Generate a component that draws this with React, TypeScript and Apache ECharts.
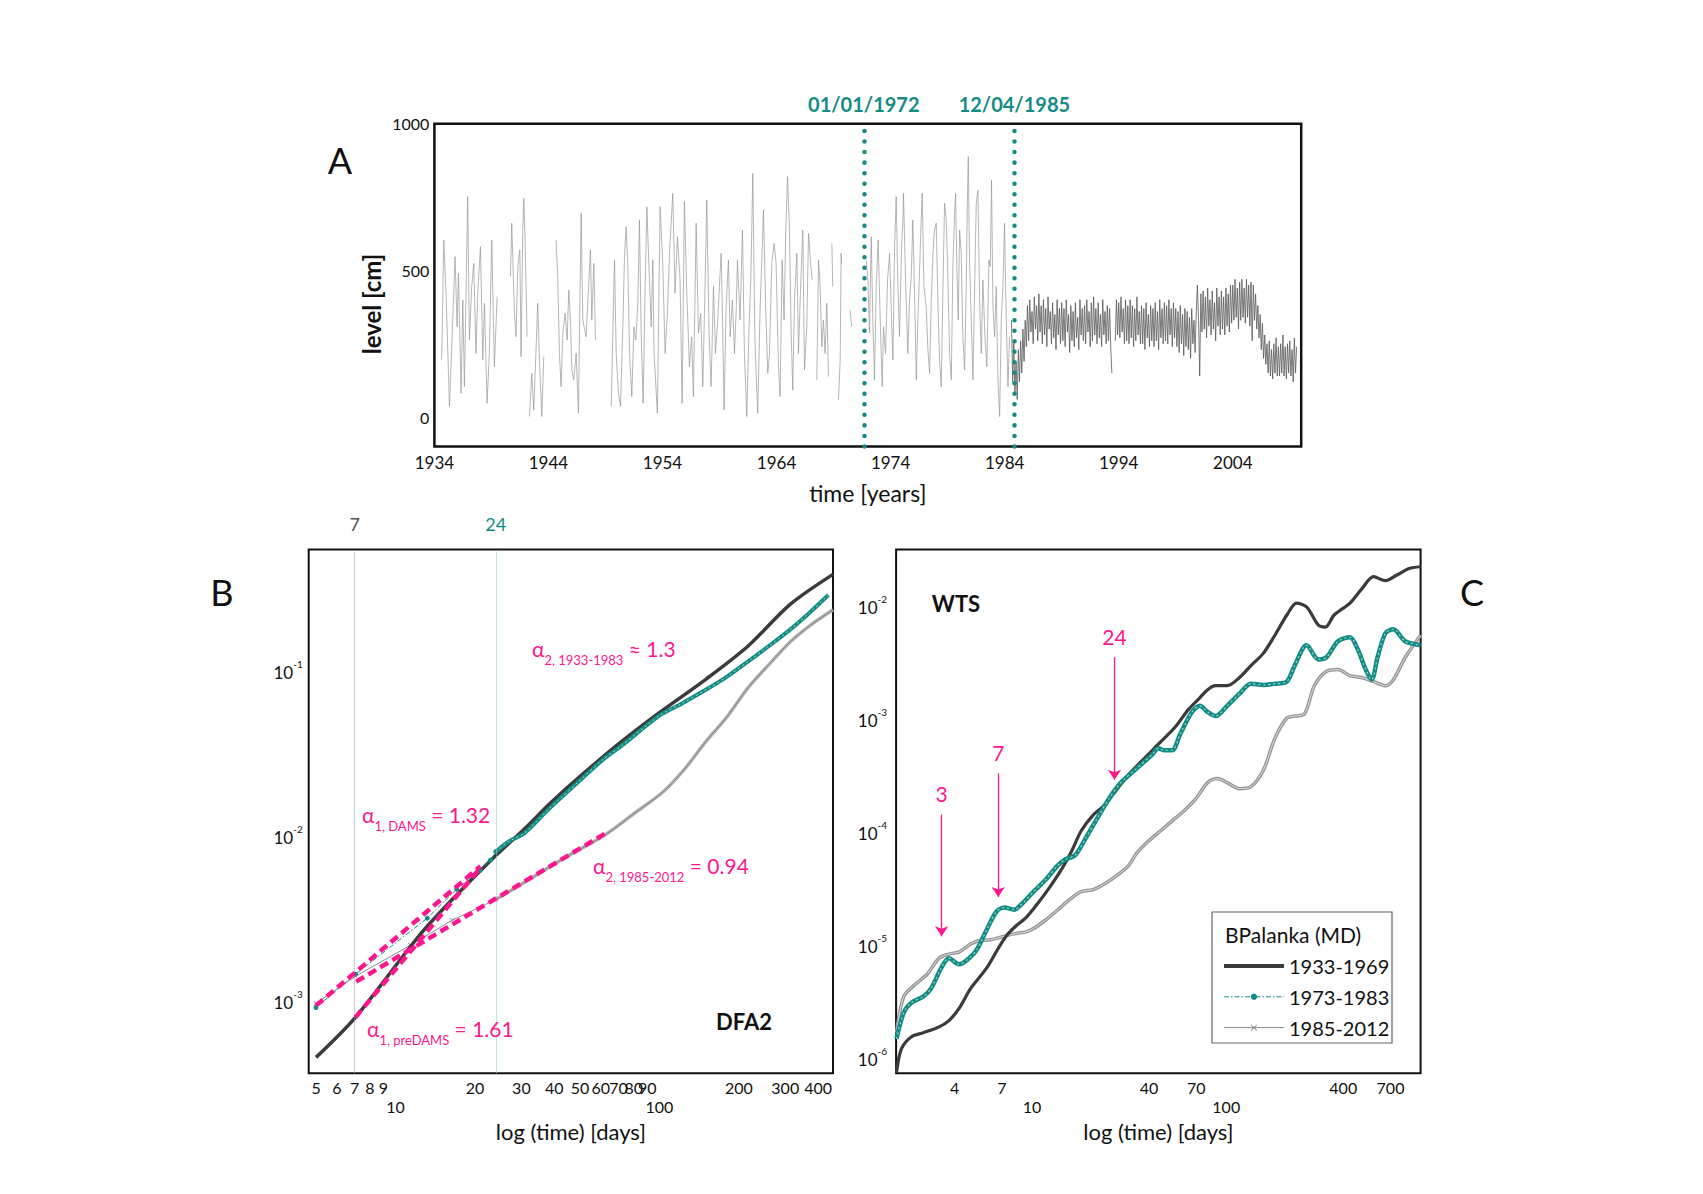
import React, { useEffect, useRef } from "react";
import * as echarts from "echarts";

const FONT = "Lato, 'Open Sans', 'DejaVu Sans', sans-serif";
const TEAL = "#148c86";
const PINK = "#ff168f";
const DARK = "#3b3b3b";

// ---------------- Panel A : water level time series ----------------
const yearTicks = [1934, 1944, 1954, 1964, 1974, 1984, 1994, 2004];
const levelTicks = [0, 500, 1000];
const damDates = [1971.65, 1984.85];
const damLabels = ["01/01/1972", "12/04/1985"];

// [year, level cm]; null = gap in record
const levelEarly: [number, number | null][] = [
  [1934.64, 195], [1934.82, 604], [1935.02, 422], [1935.32, 36], [1935.61, 331], [1935.81, 547], [1935.99, 308],
  [1936.11, 490], [1936.34, 81], [1936.49, 399], [1936.63, 104], [1936.92, 752], [1937.07, 263], [1937.27, 445],
  [1937.45, 524], [1937.65, 217], [1937.8, 422], [1938.04, 581], [1938.24, 195], [1938.39, 388], [1938.62, 47],
  [1938.82, 217], [1939.03, 604], [1939.26, 172], [1939.5, 411], [1940.1, null],
  [1940.67, 479], [1940.78, 661], [1941.02, 354], [1941.16, 274], [1941.31, 513], [1941.49, 570], [1941.6, 206],
  [1941.75, 638], [1941.84, 746], [1941.95, 604], [1942.13, 274], [1942.2, null],
  [1942.33, 2], [1942.54, 149], [1942.71, 24], [1942.92, 240], [1943.06, 388], [1943.21, 195], [1943.42, 2],
  [1943.59, 206], [1944.0, null],
  [1944.67, 604], [1944.82, 468], [1944.96, 217], [1945.11, 104], [1945.26, 286], [1945.46, 354], [1945.64, 263],
  [1945.78, 433], [1945.93, 331], [1946.05, 161], [1946.22, 127], [1946.43, 217], [1946.63, 13], [1946.75, 377],
  [1946.87, 695], [1947.01, 331], [1947.3, 274], [1947.68, 570], [1947.8, 331], [1947.98, 524], [1948.12, 263],
  [1948.8, null],
  [1949.5, 36], [1949.64, 274], [1949.79, 536], [1949.94, 217], [1950.14, 81], [1950.32, 36], [1950.52, 308],
  [1950.67, 547], [1950.81, 649], [1950.96, 513], [1951.11, 217], [1951.31, 70], [1951.49, 308], [1951.66, 263],
  [1951.84, 388], [1951.98, 672], [1952.13, 286], [1952.3, 47], [1952.48, 445], [1952.63, 717], [1952.8, 524],
  [1953.01, 308], [1953.15, 536], [1953.26, 217], [1953.55, 13], [1953.79, 717], [1954.02, 524], [1954.23, 217],
  [1954.43, 354], [1954.61, 558], [1954.9, 763], [1955.1, 422], [1955.31, 615], [1955.54, 468], [1955.72, 47],
  [1955.92, 735], [1956.13, 422], [1956.36, 172], [1956.56, 274], [1956.71, 70], [1956.95, 661], [1957.15, 286],
  [1957.35, 354], [1957.53, 104], [1957.73, 445], [1957.88, 740], [1958.09, 274], [1958.26, 104], [1958.47, 445],
  [1958.64, 217], [1958.85, 331], [1958.99, 445], [1959.14, 558], [1959.28, 308], [1959.4, 24], [1959.58, 377],
  [1959.78, 536], [1959.93, 274], [1960.13, 399], [1960.31, 217], [1960.45, 354], [1960.57, 536], [1960.8, 331],
  [1961.01, 638], [1961.18, 217], [1961.39, 2], [1961.59, 308], [1961.74, 468], [1961.92, 831], [1962.09, 286],
  [1962.21, 149], [1962.35, 13], [1962.56, 377], [1962.71, 536], [1962.85, 706], [1963.06, 354], [1963.23, 149],
  [1963.38, 217], [1963.58, 524], [1963.79, 592], [1963.96, 524], [1964.17, 172], [1964.31, 70], [1964.49, 536],
  [1964.66, 331], [1964.81, 638], [1964.96, 820], [1965.13, 649], [1965.28, 286], [1965.42, 92], [1965.57, 399],
  [1965.78, 558], [1965.92, 217], [1966.13, 468], [1966.3, 638], [1966.45, 161], [1966.65, 308], [1966.8, 626],
  [1966.97, 536], [1967.12, 468], [1967.3, null],
  [1967.53, 127], [1967.68, 536], [1967.82, 445], [1967.97, 240], [1968.11, 331], [1968.26, 217], [1968.41, 388],
  [1968.55, 138], [1968.7, null], [1968.85, 592], [1968.93, 445], [1969.1, null],
  [1969.43, 58], [1969.58, 195], [1969.66, 558], [1969.72, 524], [1970.0, null],
  [1970.45, 365], [1970.6, 308], [1971.0, null],
  [1971.86, 536], [1972.01, 468], [1972.15, 286], [1972.3, 615], [1972.44, 331], [1972.59, 127], [1972.74, 445],
  [1972.91, 604], [1973.09, 331], [1973.26, 104], [1973.38, 308], [1973.56, 217], [1973.73, 468], [1973.91, 558],
  [1974.08, 331], [1974.2, 195], [1974.35, 581], [1974.49, 752], [1974.64, 445], [1974.78, 274], [1974.96, 581],
  [1975.08, 672], [1975.13, 763], [1975.31, 468], [1975.51, 217], [1975.66, 399], [1975.81, 479], [1975.95, 672],
  [1976.1, 422], [1976.25, 127], [1976.39, 331], [1976.54, 502], [1976.68, 672], [1976.77, 763], [1976.92, 445],
  [1977.12, 377], [1977.27, 229], [1977.42, 149], [1977.56, 388], [1977.71, 558], [1977.85, 638], [1978.0, 661],
  [1978.15, 388], [1978.29, 195], [1978.44, 104], [1978.59, 445], [1978.73, 729], [1978.88, 672], [1979.02, 479],
  [1979.17, 217], [1979.32, 127], [1979.46, 513], [1979.61, 695], [1979.7, 763], [1979.81, 502], [1979.93, 331],
  [1980.05, 638], [1980.19, 558], [1980.34, 274], [1980.49, 161], [1980.63, 445], [1980.72, 717], [1980.81, 888],
  [1980.92, 536], [1981.07, 331], [1981.22, 127], [1981.39, 490], [1981.51, 729], [1981.66, 774], [1981.8, 399],
  [1981.95, 217], [1982.09, 468], [1982.27, 274], [1982.44, 172], [1982.62, 536], [1982.74, 513], [1982.85, 808],
  [1982.97, 377], [1983.12, 274], [1983.26, 445], [1983.41, 127], [1983.56, 2], [1983.7, 331], [1983.85, 445],
  [1983.99, 661], [1984.14, 331], [1984.29, 104], [1984.43, 274],
];

// regular 0.1-year samples after the dams (dense band)
const lateStart = 1984.6;
const lateStep = 0.1;
const levelLate: (number | null)[] = [
  330, 120, 260, 80,
  190, 60, 230, 120, 260, 150, 300, 190, 330, 240,
  380, 260, 400, 290, 360, 250, 410, 300, 380, 260,
  420, 290, 380, 250, 400, 280, 370, 240, 410, 300,
  360, 250, 390, 270, 350, 230, 400, 280, 370, 250,
  390, 260, 370, 240, 400, 290, 350, 220, 380, 260,
  360, 240, 390, 270, 340, 230, 400, 280, 370, 260,
  380, 250, 400, 290, 360, 240, 390, 260, 410, 280,
  370, 250, 390, 270, 350, 240, 400, 280, 360, 250,
  380, 260, 370, 240, 150, null, null, 260, 400, 280,
  390, 270, 410, 290, 370, 250, 400, 260, 380, 250,
  400, 270, 380, 240, 370, 260, 410, 280, 360, 250,
  380, 250, 370, 230, 390, 270, 350, 240, 380, 260,
  370, 240, 390, 260, 360, 230, 400, 270, 370, 250,
  390, 260, 380, 250, 400, 280, 370, 240, 390, 270,
  370, 240, 360, 220, 380, 250, 350, 210, 370, 240,
  360, 230, 340, 200, 370, 250, 330, 220, 360, 450,
  330, 140, 420, 290, 430, 300, 410, 270, 440, 310,
  400, 280, 430, 300, 390, 260, 440, 310, 410, 280,
  430, 300, 410, 280, 440, 310, 420, 290, 450, 320,
  450, 330, 470, 340, 440, 300, 460, 330, 470, 340,
  440, 320, 470, 340, 450, 310, 460, 260, 450, 330,
  420, 300, 380, 270, 350, 230, 320, 200, 280, 180,
  250, 150, 260, 140, 230, 130, 250, 150, 270, 140,
  240, 140, 250, 150, 280, 140, 240, 130, 250, 150,
  260, 140, 230, 120, 270, 150, 240,
];

// ---------------- Panel B : DFA2 ----------------
const dfaTicksX = [5, 6, 7, 8, 9, 10, 20, 30, 40, 50, 60, 70, 80, 90, 100, 200, 300, 400];
const dfaTicksY = [0.001, 0.01, 0.1];
const dfa1933 = [
  [5, 4.52e-4], [7.05, 7.9e-4], [12.2, 2.43e-3], [16.4, 4.08e-3], [24.2, 7.64e-3], [30.8, 0.0109], [38.4, 0.0155],
  [49.7, 0.0225], [71.8, 0.0369], [100, 0.0553], [150, 0.088], [217, 0.14], [313, 0.25], [455, 0.38],
];
const dfa1973Small = [
  [5, 9.06e-4], [7.05, 1.44e-3], [13.2, 3.15e-3], [17.06, 4.72e-3], [20.9, 6.12e-3], [22.9, 7.08e-3], [24, 7.96e-3],
];
const dfa1973Large = [
  [24, 7.96e-3], [27, 9.2e-3], [30.8, 0.0103], [38.4, 0.0146], [49.7, 0.0213], [62, 0.0293], [71.8, 0.0348],
  [100, 0.053], [120, 0.062], [150, 0.076], [180, 0.091], [217, 0.113], [260, 0.14], [313, 0.176], [370, 0.222],
  [437, 0.285],
];
const dfa1985Small = [
  [5, 9.6e-4], [7.05, 1.4e-3], [11.4, 2.16e-3], [16.4, 3.06e-3], [24, 4.08e-3],
];
const dfa1985Large = [
  [24, 4.08e-3], [34.4, 5.78e-3], [45, 7.5e-3], [62, 0.01], [80, 0.0135], [103.7, 0.0184], [125, 0.0253],
  [150, 0.0369], [180, 0.052], [217, 0.0784], [260, 0.108], [313, 0.148], [370, 0.185], [455, 0.232],
];
const fitDams = [[5, 9.3e-4], [21, 6.5e-3]];
const fitPreDams = [[7.05, 7.9e-4], [20.7, 6.2e-3]];
const fitPost = [[7.1, 1.3e-3], [62, 0.0102]];
const dfaMarks = [7, 24];

// ---------------- Panel C : WTS ----------------
const wtsTicksX = [4, 7, 10, 40, 70, 100, 400, 700];
const wtsTicksY = [1e-6, 1e-5, 1e-4, 1e-3, 1e-2];
const wts1933 = [
  [2.01, 7.3e-7], [2.13, 1.18e-6], [2.4, 1.51e-6], [2.76, 1.64e-6], [3.33, 1.85e-6], [3.74, 2.1e-6], [4.21, 2.68e-6],
  [4.84, 4.05e-6], [5.84, 6.11e-6], [6.72, 9.21e-6], [7.38, 1.18e-5], [8.3, 1.45e-5], [9.33, 1.71e-5], [10.7, 2.28e-5],
  [12.3, 3.16e-5], [14.2, 4.58e-5], [16.0, 6.62e-5], [17.9, 1.0e-4], [20.7, 1.39e-4], [23.8, 1.71e-4], [26.1, 2.1e-4],
  [31.5, 3.16e-4], [37.9, 4.4e-4], [45.8, 6.11e-4], [55.2, 8.49e-4], [63.6, 1.18e-3], [73.1, 1.51e-3], [80.2, 1.78e-3],
  [88.1, 1.93e-3], [101, 1.93e-3], [117, 2.28e-3], [134, 2.91e-3], [155, 3.73e-3], [178, 5.4e-3], [205, 8.15e-3],
  [230, 1.04e-2], [259, 9.6e-3], [298, 6.63e-3], [324, 6.37e-3], [359, 8.15e-3], [433, 1.04e-2], [498, 1.39e-2],
  [573, 1.78e-2], [659, 1.64e-2], [759, 1.85e-2], [873, 2.1e-2], [1000, 2.18e-2],
];
const wts1973 = [
  [2.01, 1.45e-6], [2.19, 2.47e-6], [2.4, 3.03e-6], [2.76, 3.43e-6], [3.03, 4.05e-6], [3.41, 6.11e-6], [3.74, 7.5e-6],
  [4.21, 6.62e-6], [4.62, 7.19e-6], [5.19, 8.84e-6], [5.84, 1.33e-5], [6.56, 1.93e-5], [7.21, 2.1e-5], [8.11, 2.01e-5],
  [8.9, 2.28e-5], [10.2, 2.91e-5], [11.8, 3.73e-5], [13.6, 4.97e-5], [14.9, 5.62e-5], [16.7, 6.11e-5], [18.8, 8.49e-5],
  [21.6, 1.28e-4], [24.9, 1.93e-4], [28.7, 2.68e-4], [34.6, 3.58e-4], [41.7, 4.77e-4], [44.7, 5.4e-4], [48.0, 5.18e-4],
  [52.7, 5.18e-4], [57.9, 7.19e-4], [66.6, 1.13e-3], [73.1, 1.28e-3], [80.2, 1.13e-3], [88.1, 1.04e-3], [101, 1.28e-3],
  [117, 1.64e-3], [134, 2.01e-3], [155, 1.96e-3], [178, 2.01e-3], [205, 2.1e-3], [225, 2.91e-3], [259, 4.4e-3],
  [298, 3.3e-3], [327, 3.43e-3], [376, 4.77e-3], [433, 5.18e-3], [475, 4.05e-3], [522, 2.68e-3], [560, 2.18e-3],
  [600, 3.43e-3], [659, 5.62e-3], [724, 6.1e-3], [833, 4.77e-3], [1000, 4.4e-3],
];
const wts1985 = [
  [2.01, 1.64e-6], [2.19, 3.43e-6], [2.51, 4.4e-6], [2.89, 5.4e-6], [3.33, 7.5e-6], [3.74, 8.15e-6], [4.21, 8.49e-6],
  [4.84, 1.0e-5], [5.32, 1.07e-5], [6.12, 1.09e-5], [7.04, 1.16e-5], [8.11, 1.23e-5], [9.33, 1.28e-5], [10.2, 1.37e-5],
  [11.8, 1.64e-5], [13.6, 2.01e-5], [15.6, 2.47e-5], [17.9, 2.91e-5], [20.7, 3.03e-5], [23.8, 3.43e-5], [27.4, 4.05e-5],
  [31.5, 4.97e-5], [34.6, 6.36e-5], [39.8, 8.15e-5], [45.8, 1.0e-4], [52.7, 1.23e-4], [60.7, 1.51e-4], [69.8, 1.93e-4],
  [80.2, 2.68e-4], [90.2, 2.91e-4], [101, 2.68e-4], [117, 2.37e-4], [134, 2.47e-4], [155, 3.43e-4], [178, 6.62e-4],
  [205, 1.0e-3], [225, 1.04e-3], [253, 1.09e-3], [284, 1.93e-3], [327, 2.58e-3], [376, 2.68e-3], [433, 2.37e-3],
  [498, 2.28e-3], [573, 2.1e-3], [659, 1.93e-3], [724, 2.18e-3], [833, 3.43e-3], [1000, 5.4e-3],
];
const wtsArrowX = [3.43, 6.71, 26.6];
const wtsArrowTop = [1.4e-4, 3.24e-4, 3.46e-3];
const wtsArrowBottom = [1.17e-5, 2.6e-5, 2.84e-4];
const wtsArrowLabels = ["3", "7", "24"];

const CROSS = "path://M0,1 L1,0 L5,4 L9,0 L10,1 L6,5 L10,9 L9,10 L5,6 L1,10 L0,9 L4,5 Z";

const txt = { fontFamily: FONT, color: "#111" };
const powRich = {
  b: { fontFamily: FONT, fontSize: 17, color: "#111", lineHeight: 22, verticalAlign: "bottom" },
  s: { fontFamily: FONT, fontSize: 10, color: "#111", lineHeight: 12, verticalAlign: "top" },
};
const powFmt = (v: number) => `{b|10}{s|${Math.round(Math.log10(v))}}`;
const logXFmt = (v: number) => {
  const r = Math.round(v);
  return r === 10 || r === 100 ? `\n${r}` : `${r}`;
};
const plainFmt = (v: number) => String(Math.round(v));
const hidden = { axisLine: { show: false }, axisTick: { show: false }, splitLine: { show: false }, minorTick: { show: false } };

const annRich = {
  a: { fontFamily: FONT, fontSize: 21, fill: PINK, lineHeight: 28, verticalAlign: "top" },
  s: { fontFamily: FONT, fontSize: 13, fill: PINK, lineHeight: 13, verticalAlign: "bottom" },
};

function buildOption() {
  const lateData = levelLate.map((v, i) => [+(lateStart + i * lateStep).toFixed(2), v]);
  const lineBase = { type: "line", symbol: "none", showSymbol: false, silent: true, animation: false };
  return {
    animation: false,
    backgroundColor: "#ffffff",
    grid: [
      { left: 434.4, top: 123.8, width: 866.8, height: 322.6, show: true, borderColor: "#111", borderWidth: 2.5, backgroundColor: "transparent" },
      { left: 308.7, top: 549.6, width: 524.3, height: 523.7, show: true, borderColor: "#111", borderWidth: 2, backgroundColor: "transparent" },
      { left: 896.1, top: 549.6, width: 524.5, height: 523.7, show: true, borderColor: "#111", borderWidth: 2, backgroundColor: "transparent" },
    ],
    xAxis: [
      {
        gridIndex: 0, type: "value", min: 1934, max: 2010, ...hidden,
        axisLabel: { customValues: yearTicks, formatter: plainFmt, ...txt, fontSize: 17, margin: 8 },
        name: "time [years]", nameLocation: "middle", nameGap: 35,
        nameTextStyle: { ...txt, fontSize: 23 },
      },
      {
        gridIndex: 1, type: "log", logBase: 10, min: 4.69, max: 455, ...hidden,
        axisLabel: { customValues: dfaTicksX, formatter: logXFmt, ...txt, fontSize: 16, lineHeight: 19, margin: 5 },
        name: "log (time) [days]", nameLocation: "middle", nameGap: 47,
        nameTextStyle: { ...txt, fontSize: 22 },
      },
      {
        gridIndex: 2, type: "log", logBase: 10, min: 2, max: 1000, ...hidden,
        axisLabel: { customValues: wtsTicksX, formatter: logXFmt, ...txt, fontSize: 16, lineHeight: 19, margin: 5 },
        name: "log (time) [days]", nameLocation: "middle", nameGap: 47,
        nameTextStyle: { ...txt, fontSize: 22 },
      },
    ],
    yAxis: [
      {
        gridIndex: 0, type: "value", min: -100, max: 1000, ...hidden,
        axisLabel: { customValues: levelTicks, formatter: plainFmt, ...txt, fontSize: 16, margin: 5 },
      },
      {
        gridIndex: 1, type: "log", logBase: 10, min: 3.62e-4, max: 0.537, ...hidden,
        axisLabel: { customValues: dfaTicksY, formatter: powFmt, rich: powRich, margin: 6 },
      },
      {
        gridIndex: 2, type: "log", logBase: 10, min: 7.18e-7, max: 0.0309, ...hidden,
        axisLabel: { customValues: wtsTicksY, formatter: powFmt, rich: powRich, margin: 9 },
      },
    ],
    legend: {
      left: 1217, top: 951, orient: "vertical", itemWidth: 60, itemHeight: 8, itemGap: 10.8,
      selectedMode: false, textStyle: { ...txt, fontSize: 20 },
      data: [
        { name: "1933-1969", lineStyle: { width: 4, color: DARK }, itemStyle: { color: DARK, opacity: 0 } },
        { name: "1973-1983", lineStyle: { width: 1, color: TEAL, type: [5, 2, 1.5, 2] }, itemStyle: { color: TEAL } },
        { name: "1985-2012", lineStyle: { width: 1, color: "#888" }, itemStyle: { color: "#888" } },
      ],
    },
    series: [
      // ---- Panel B (first so legend picks these styles)
      {
        ...lineBase, name: "1933-1969", xAxisIndex: 1, yAxisIndex: 1, data: dfa1933, smooth: 0.3, z: 3,
        lineStyle: { color: DARK, width: 3.5 },
        markLine: {
          silent: true, symbol: ["none", "none"], animation: false,
          lineStyle: { width: 1, type: "dotted" },
          label: { position: "end", fontFamily: FONT, fontSize: 18, distance: 17 },
          data: [
            { xAxis: dfaMarks[0], lineStyle: { color: "#9a9a9a" }, label: { formatter: String(dfaMarks[0]), color: "#555" } },
            { xAxis: dfaMarks[1], lineStyle: { color: "#86c6c2" }, label: { formatter: String(dfaMarks[1]), color: TEAL } },
          ],
        },
      },
      {
        ...lineBase, name: "1973-1983", xAxisIndex: 1, yAxisIndex: 1, data: dfa1973Small, z: 3,
        symbol: "circle", showSymbol: true, symbolSize: 5, itemStyle: { color: TEAL },
        lineStyle: { color: TEAL, width: 1, type: [5, 2, 1.5, 2] },
      },
      {
        ...lineBase, name: "1985-2012", xAxisIndex: 1, yAxisIndex: 1, data: dfa1985Small, z: 2,
        symbol: CROSS, showSymbol: true, symbolSize: 5, itemStyle: { color: "#888" },
        lineStyle: { color: "#8a8a8a", width: 1 },
      },
      {
        ...lineBase, name: "dfa-1973-thick", xAxisIndex: 1, yAxisIndex: 1, data: dfa1973Large, smooth: 0.3, z: 4,
        lineStyle: { color: TEAL, width: 4 },
      },
      {
        ...lineBase, name: "dfa-1973-core", xAxisIndex: 1, yAxisIndex: 1, data: dfa1973Large, smooth: 0.3, z: 4,
        lineStyle: { color: "#a6dcd7", width: 1, type: [2, 3] },
      },
      {
        ...lineBase, name: "dfa-1985-thick", xAxisIndex: 1, yAxisIndex: 1, data: dfa1985Large, smooth: 0.3, z: 2,
        lineStyle: { color: "#b3b3b3", width: 3.5 },
      },
      {
        ...lineBase, name: "dfa-1985-core", xAxisIndex: 1, yAxisIndex: 1, data: dfa1985Large, smooth: 0.3, z: 2,
        lineStyle: { color: "#7a7a7a", width: 0.8 },
      },
      ...[fitDams, fitPreDams, fitPost].map((d, i) => ({
        ...lineBase, name: "fit-" + i, xAxisIndex: 1, yAxisIndex: 1, data: d, z: 6,
        lineStyle: { color: PINK, width: 4.5, type: [9, 5] },
      })),
      // ---- Panel A
      {
        ...lineBase, name: "level-early", xAxisIndex: 0, yAxisIndex: 0, data: levelEarly, connectNulls: false,
        lineStyle: { color: "#969696", width: 0.7 },
      },
      {
        ...lineBase, name: "level-late", xAxisIndex: 0, yAxisIndex: 0, data: lateData, connectNulls: false,
        lineStyle: { color: "#585858", width: 0.8 },
        markLine: {
          silent: true, symbol: ["none", "none"], animation: false,
          lineStyle: { color: TEAL, width: 4.5, type: [0.01, 10.5], cap: "round" },
          label: {
            position: "end", formatter: (p: any) => p.name, color: TEAL, fontFamily: FONT,
            fontWeight: "bold", fontSize: 20, distance: 10,
          },
          data: damDates.map((d, i) => ({ xAxis: d, name: damLabels[i] })),
        },
      },
      // ---- Panel C
      {
        ...lineBase, name: "wts-1985", xAxisIndex: 2, yAxisIndex: 2, data: wts1985, smooth: 0.3, z: 2,
        lineStyle: { color: "#959595", width: 3.5 },
      },
      {
        ...lineBase, name: "wts-1985-core", xAxisIndex: 2, yAxisIndex: 2, data: wts1985, smooth: 0.3, z: 2,
        lineStyle: { color: "#dddddd", width: 1 },
      },
      {
        ...lineBase, name: "wts-1933", xAxisIndex: 2, yAxisIndex: 2, data: wts1933, smooth: 0.3, z: 3,
        lineStyle: { color: DARK, width: 3.2 },
        markLine: {
          silent: true, symbol: ["none", "arrow"], symbolSize: 10, animation: false,
          lineStyle: { color: PINK, width: 1.3, type: "solid" },
          label: { position: "start", formatter: (p: any) => p.name, color: PINK, fontFamily: FONT, fontSize: 21, distance: 10 },
          data: wtsArrowX.map((x, i) => [
            { coord: [x, wtsArrowTop[i]], name: wtsArrowLabels[i] },
            { coord: [x, wtsArrowBottom[i]] },
          ]),
        },
      },
      {
        ...lineBase, name: "wts-1973", xAxisIndex: 2, yAxisIndex: 2, data: wts1973, smooth: 0.3, z: 4,
        lineStyle: { color: TEAL, width: 4.5 },
      },
      {
        ...lineBase, name: "wts-1973-core", xAxisIndex: 2, yAxisIndex: 2, data: wts1973, smooth: 0.3, z: 4,
        lineStyle: { color: "#a6dcd7", width: 1.1, type: [2, 3] },
      },
    ],
    graphic: [
      { type: "text", x: 340, y: 160, silent: true, style: { text: "A", fontFamily: FONT, fontSize: 36, fill: "#111", align: "center", verticalAlign: "middle" } },
      { type: "text", x: 222, y: 592, silent: true, style: { text: "B", fontFamily: FONT, fontSize: 36, fill: "#111", align: "center", verticalAlign: "middle" } },
      { type: "text", x: 1472, y: 592, silent: true, style: { text: "C", fontFamily: FONT, fontSize: 36, fill: "#111", align: "center", verticalAlign: "middle" } },
      { type: "text", x: 371.5, y: 304, rotation: Math.PI / 2, silent: true, style: { text: "level [cm]", fontFamily: FONT, fontSize: 24, fontWeight: "bold", fill: "#111", align: "center", verticalAlign: "middle" } },
      { type: "text", x: 744, y: 1021, silent: true, style: { text: "DFA2", fontFamily: FONT, fontSize: 22, fontWeight: "bold", fill: "#111", align: "center", verticalAlign: "middle" } },
      { type: "text", x: 956, y: 603, silent: true, style: { text: "WTS", fontFamily: FONT, fontSize: 22, fontWeight: "bold", fill: "#111", align: "center", verticalAlign: "middle" } },
      { type: "text", x: 532, y: 638, silent: true, z: 10, style: { text: "{a|α}{s|2, 1933-1983}{a| ≈ 1.3}", rich: annRich, align: "left", verticalAlign: "top" } },
      { type: "text", x: 362, y: 804, silent: true, z: 10, style: { text: "{a|α}{s|1, DAMS}{a| = 1.32}", rich: annRich, align: "left", verticalAlign: "top" } },
      { type: "text", x: 593, y: 855, silent: true, z: 10, style: { text: "{a|α}{s|2, 1985-2012}{a| = 0.94}", rich: annRich, align: "left", verticalAlign: "top" } },
      { type: "text", x: 367, y: 1018, silent: true, z: 10, style: { text: "{a|α}{s|1, preDAMS}{a| = 1.61}", rich: annRich, align: "left", verticalAlign: "top" } },
      { type: "rect", silent: true, z: 1, shape: { x: 1212, y: 912, width: 180, height: 131 }, style: { fill: "#ffffff", stroke: "#666", lineWidth: 1.2 } },
      { type: "text", x: 1225, y: 934, silent: true, z: 2, style: { text: "BPalanka (MD)", fontFamily: FONT, fontSize: 21, fill: "#111", align: "left", verticalAlign: "middle" } },
    ],
  };
}

export default function App() {
  const ref = useRef<HTMLDivElement>(null);
  useEffect(() => {
    if (!ref.current) return;
    const chart = echarts.init(ref.current, undefined, { renderer: "svg", width: 1703, height: 1194 });
    chart.setOption(buildOption() as any);
    return () => chart.dispose();
  }, []);
  return (
    <div
      ref={ref}
      style={{ position: "fixed", left: 0, top: 0, width: 1703, height: 1194, background: "#fff" }}
    />
  );
}
